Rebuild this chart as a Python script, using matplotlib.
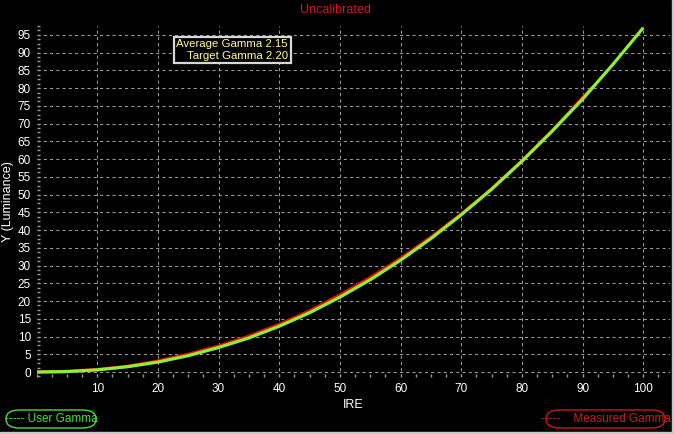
import numpy as np
import matplotlib
matplotlib.use('Agg')
import matplotlib.pyplot as plt
from matplotlib.patches import FancyBboxPatch
from matplotlib.ticker import MultipleLocator

plt.rcParams['font.family'] = ['Liberation Sans', 'DejaVu Sans']

# user (target) gamma curve, read every 5 IRE
user_ire = [0, 5, 10, 15, 20, 25, 30, 35, 40, 45, 50, 55, 60, 65, 70, 75, 80, 85, 90, 95, 100]
user_y = [0.0, 0.13, 0.61, 1.5, 2.8, 4.6, 6.9, 9.6, 12.9, 16.7, 21.1, 26.0, 31.5, 37.6, 44.3, 51.5, 59.4, 67.9, 76.9, 86.7, 97.0]

# measured gamma curve (stops at 92 IRE)
meas_ire = [0, 5, 10, 15, 20, 25, 30, 35, 40, 45, 50, 55, 60, 65, 70, 75, 80, 85, 90, 92]
meas_y = [0.0, 0.15, 0.7, 1.6, 3.1, 5.0, 7.3, 10.1, 13.4, 17.2, 21.7, 26.6, 32.0, 38.0, 44.5, 51.6, 59.5, 68.0, 77.3, 80.8]

x_ticks = [10, 20, 30, 40, 50, 60, 70, 80, 90, 100]
y_ticks = list(range(0, 100, 5))

avg_gamma = 2.15
target_gamma = 2.20

W, H = 674, 434
fig = plt.figure(figsize=(W / 100, H / 100), dpi=100, facecolor='black')
ax = fig.add_axes([36.5 / W, (H - 377) / H, (670 - 36.5) / W, (377 - 26) / H])
ax.set_facecolor('black')

ax.plot(meas_ire, meas_y, color='#e01010', linewidth=2.4, solid_capstyle='butt', zorder=3)
ax.plot(user_ire, user_y, color='#90f030', linewidth=2.3, solid_capstyle='butt', zorder=4)

ax.set_xlim(0, 104.4)
ax.set_ylim(-1.4, 97.5)
ax.set_xticks(x_ticks)
ax.set_yticks(y_ticks)
ax.xaxis.set_minor_locator(MultipleLocator(2.5))
ax.yaxis.set_minor_locator(MultipleLocator(1.25))

for s in ax.spines.values():
    s.set_visible(False)

ax.grid(True, which='major', color='#9a9a9a', linestyle=(0, (3, 3)), linewidth=0.75)
ax.tick_params(which='both', colors='#9a9a9a', direction='in', length=2, width=1)
ax.tick_params(axis='both', which='major', labelcolor='white', labelsize=8.5, pad=4)

ax.set_xlabel('IRE', color='white', fontsize=9, labelpad=3)
ax.set_ylabel('Y (Luminance)', color='white', fontsize=9, labelpad=3)

fig.text(335 / W, 1 - 10 / H, 'Uncalibrated', color='#d01818', fontsize=9, ha='center', va='center')

# gamma info box
ax.text(0.397, 0.962, 'Average Gamma %.2f\nTarget Gamma %.2f' % (avg_gamma, target_gamma),
        transform=ax.transAxes, ha='right', va='top', color='#ffff90', fontsize=8.2,
        linespacing=1.2,
        bbox=dict(boxstyle='square,pad=0.22', facecolor='black', edgecolor='#d8d8d8', linewidth=1.6),
        zorder=6)

# legend pills
def pill(x0, y0, w, h, txt, col):
    p = FancyBboxPatch((x0 / W, 1 - (y0 + h) / H), w / W, h / H,
                       boxstyle='round,pad=0,rounding_size=0.02', transform=fig.transFigure,
                       facecolor='black', edgecolor=col, linewidth=1)
    fig.patches.append(p)
    fig.text((x0 + w / 2) / W, 1 - (y0 + h / 2) / H, txt, color=col, fontsize=8.5,
             ha='center', va='center')

pill(6, 410, 90, 18, '----- User Gamma', '#40e040')
pill(546, 410, 119, 18, '-----    Measured Gamma', '#d01818')

# light frame at bottom and right, like the window edge
fig.patches.append(plt.Rectangle((0, 0), 1, 2 / H, transform=fig.transFigure, color='#c8c8c8'))
fig.patches.append(plt.Rectangle((1 - 2 / W, 0), 2 / W, 1, transform=fig.transFigure, color='#c8c8c8'))

fig.savefig('out.png', dpi=100, facecolor='black')
